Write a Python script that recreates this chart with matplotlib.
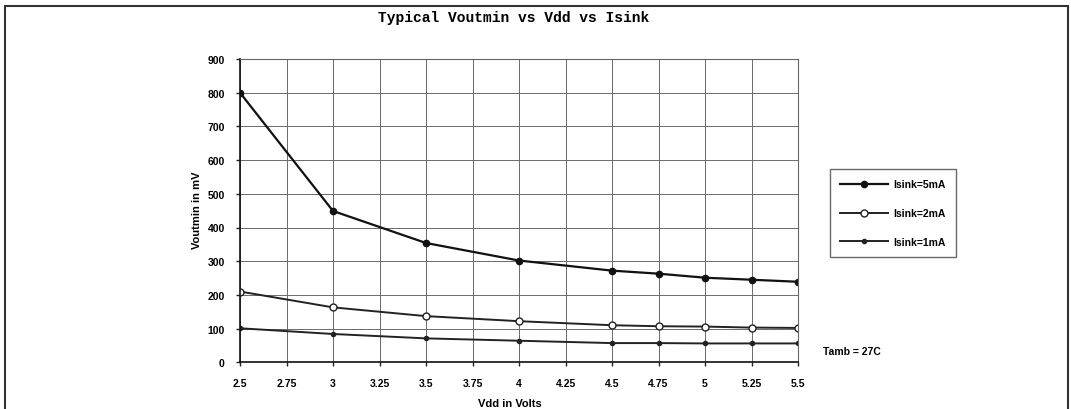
import matplotlib
matplotlib.use('Agg')
import matplotlib.pyplot as plt
from matplotlib.patches import Rectangle

# Vdd in volts (points where markers were plotted)
vdd = [2.5, 3, 3.5, 4, 4.5, 4.75, 5, 5.25, 5.5]

# Voutmin in mV for each sink current
isink_5ma = [800, 449, 354, 302, 272, 263, 251, 245, 239]
isink_2ma = [210, 163, 137, 122, 110, 107, 106, 103, 102]
isink_1ma = [101, 84, 71, 64, 57, 57, 56, 56, 56]

labels = ['Isink=5mA', 'Isink=2mA', 'Isink=1mA']
xticks = [2.5, 2.75, 3, 3.25, 3.5, 3.75, 4, 4.25, 4.5, 4.75, 5, 5.25, 5.5]
xtick_labels = ['2.5', '2.75', '3', '3.25', '3.5', '3.75', '4', '4.25', '4.5', '4.75', '5', '5.25', '5.5']
yticks = list(range(0, 901, 100))

plt.rcParams['font.family'] = ['Liberation Sans', 'DejaVu Sans']

fig = plt.figure(figsize=(10.71, 4.10), dpi=100)
ax = fig.add_axes([240 / 1071, (410 - 363.3) / 410, 558 / 1071, 303.3 / 410])

ax.plot(vdd, isink_5ma, color='#111111', lw=1.6, marker='o', ms=4.5,
        mfc='#111111', mec='#111111', label=labels[0])
ax.plot(vdd, isink_2ma, color='#222222', lw=1.4, marker='o', ms=5,
        mfc='white', mec='#222222', mew=1.0, label=labels[1])
ax.plot(vdd, isink_1ma, color='#222222', lw=1.4, marker='o', ms=3,
        mfc='#222222', mec='#222222', label=labels[2])

ax.set_xlim(2.5, 5.5)
ax.set_ylim(0, 900)
ax.set_xticks(xticks)
ax.set_xticklabels(xtick_labels)
ax.set_yticks(yticks)
ax.grid(True, color='#6a6a6a', lw=0.7)
ax.set_axisbelow(True)
ax.tick_params(labelsize=7.5, length=3, width=1, color='#222222', pad=8)
for lab in ax.get_xticklabels() + ax.get_yticklabels():
    lab.set_fontweight('bold')

ax.spines['left'].set_color('#111111')
ax.spines['bottom'].set_color('#111111')
ax.spines['left'].set_linewidth(1.2)
ax.spines['bottom'].set_linewidth(1.2)
ax.spines['top'].set_color('#666666')
ax.spines['right'].set_color('#666666')
ax.spines['top'].set_linewidth(0.8)
ax.spines['right'].set_linewidth(0.8)

fig.text(514 / 1071, 1 - 18 / 410, 'Typical Voutmin vs Vdd vs Isink',
         ha='center', va='center', fontsize=10.5, fontweight='bold',
         family='Liberation Mono')
fig.text(197 / 1071, 1 - 210 / 410, 'Voutmin in mV', rotation=90,
         ha='center', va='center', fontsize=8, fontweight='bold')
fig.text(510 / 1071, 1 - 404 / 410, 'Vdd in Volts',
         ha='center', va='center', fontsize=8, fontweight='bold')
fig.text(823 / 1071, 1 - 352 / 410, 'Tamb = 27C',
         ha='left', va='center', fontsize=7.5, fontweight='bold')

leg = ax.legend(loc='upper left', bbox_to_anchor=(830 / 1071, 1 - 170 / 410),
                bbox_transform=fig.transFigure, fontsize=7.5, frameon=True,
                fancybox=False, edgecolor='#444444', handlelength=4.6,
                borderpad=1.0, labelspacing=1.8, handletextpad=0.5,
                borderaxespad=0)
leg.get_frame().set_linewidth(1.0)
for t in leg.get_texts():
    t.set_fontweight('bold')

# outer frame of the figure
fig.patches.append(Rectangle((5 / 1071, -0.1), 1063 / 1071, 1 - 7 / 410 + 0.1,
                             transform=fig.transFigure, fill=False,
                             edgecolor='#333333', lw=1.5, clip_on=False))

fig.savefig('out.png', dpi=100)
